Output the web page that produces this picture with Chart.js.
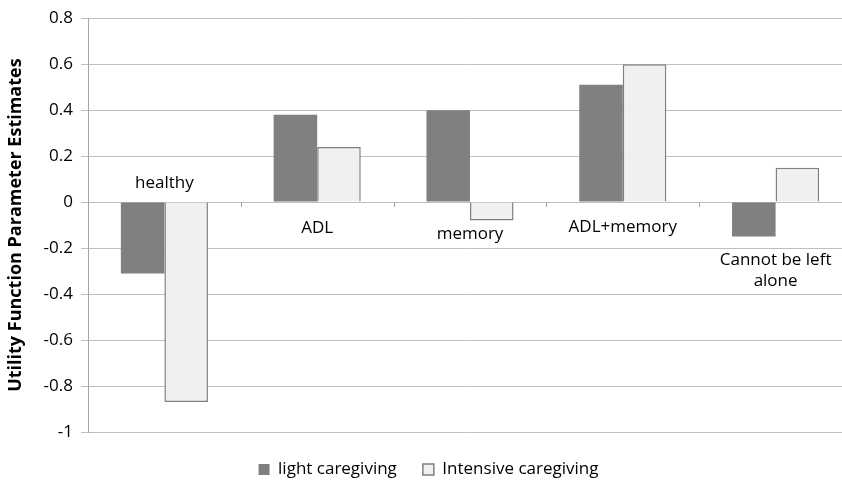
<!DOCTYPE html>
<html>
<head>
<meta charset="utf-8">
<script src="https://cdn.jsdelivr.net/npm/chart.js@4.4.1/dist/chart.umd.min.js"></script>
<style>
  html, body { margin: 0; padding: 0; background: #fff; overflow: hidden; }
  #wrap { width: 852px; height: 489px; }
</style>
</head>
<body>
<div id="wrap"><canvas id="chart"></canvas></div>
<script>
var categories = ["healthy", "ADL", "memory", "ADL+memory", ["Cannot be left", "alone"]];
var lightValues = [-0.31, 0.38, 0.40, 0.51, -0.15];
var intensiveValues = [-0.87, 0.24, -0.08, 0.60, 0.15];
var yTickValues = [0.8, 0.6, 0.4, 0.2, 0, -0.2, -0.4, -0.6, -0.8, -1];
var seriesNames = ["light caregiving", "Intensive caregiving"];

var fontFamily = "'Open Sans', 'Liberation Sans', sans-serif";

// category labels sit near the zero line, like the original
var catLabelPlugin = {
  id: 'catLabels',
  afterDatasetsDraw: function(chart) {
    var ctx = chart.ctx;
    var x = chart.scales.x, y = chart.scales.y;
    var y0 = y.getPixelForValue(0);
    var offsets = [-19, 26, 32, 25, 58];
    ctx.save();
    // small tick marks on the zero line between categories
    ctx.strokeStyle = '#a6a6a6';
    ctx.lineWidth = 1;
    for (var i = 1; i < categories.length; i++) {
      var xm = Math.round((x.getPixelForValue(i - 1) + x.getPixelForValue(i)) / 2) + 0.5;
      ctx.beginPath();
      ctx.moveTo(xm, y0);
      ctx.lineTo(xm, y0 + 5);
      ctx.stroke();
    }
    ctx.fillStyle = '#000';
    ctx.font = '17px ' + fontFamily;
    ctx.textAlign = 'center';
    ctx.textBaseline = 'middle';
    categories.forEach(function(c, i) {
      var lines = Array.isArray(c) ? c : [c];
      var cx = x.getPixelForValue(i);
      lines.forEach(function(t, j) {
        ctx.fillText(t, cx, y0 + offsets[i] + j * 21);
      });
    });
    ctx.restore();
  }
};

new Chart(document.getElementById('chart'), {
  type: 'bar',
  data: {
    labels: categories,
    datasets: [{
      label: seriesNames[0],
      data: lightValues,
      backgroundColor: '#808080',
      borderColor: '#808080',
      borderWidth: 0
    }, {
      label: seriesNames[1],
      data: intensiveValues,
      backgroundColor: '#f0f0f0',
      borderColor: '#7f7f7f',
      borderWidth: 1.5
    }]
  },
  options: {
    responsive: true,
    maintainAspectRatio: false,
    animation: false,
    layout: { padding: { top: 5, right: 0, bottom: 1, left: 5 } },
    datasets: { bar: { categoryPercentage: 0.57, barPercentage: 1.0 } },
    scales: {
      x: {
        ticks: { display: false },
        grid: { display: false, drawTicks: false },
        border: { display: false },
        afterFit: function(axis) { axis.height = 3; }
      },
      y: {
        min: -1,
        max: 0.8,
        afterBuildTicks: function(axis) {
          axis.ticks = yTickValues.map(function(v) { return { value: v }; });
        },
        afterFit: function(axis) { axis.width = 83; },
        ticks: {
          color: '#000',
          font: { size: 17, family: fontFamily },
          padding: 8,
          callback: function(v) { return String(Math.round(v * 10) / 10); }
        },
        grid: { color: '#bfbfbf', lineWidth: 1, tickLength: 7 },
        border: { display: true, color: '#a6a6a6' },
        title: {
          display: true,
          text: 'Utility Function Parameter Estimates',
          color: '#000',
          font: { size: 18, weight: 'bold', family: fontFamily },
          padding: { top: 0, bottom: 4 }
        }
      }
    },
    plugins: {
      legend: {
        position: 'bottom',
        labels: {
          color: '#000',
          boxWidth: 11,
          boxHeight: 11,
          padding: 26,
          font: { size: 17, family: fontFamily }
        }
      },
      tooltip: { enabled: false }
    }
  },
  plugins: [catLabelPlugin]
});
</script>
</body>
</html>
